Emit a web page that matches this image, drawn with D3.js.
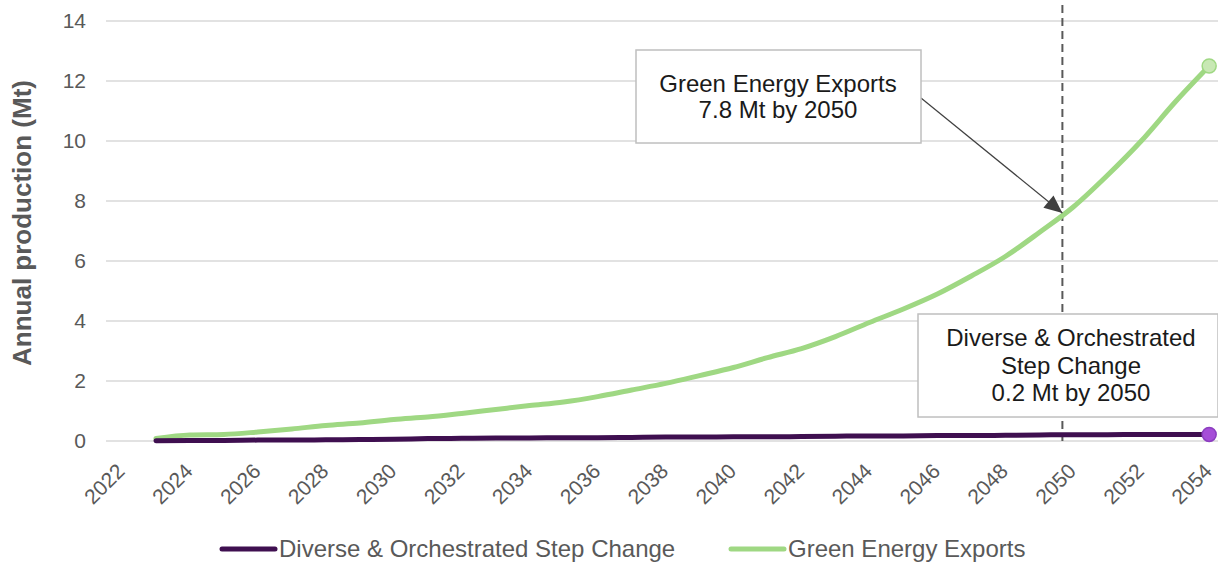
<!DOCTYPE html>
<html><head><meta charset="utf-8">
<script src="https://cdn.jsdelivr.net/npm/d3@7"></script>
<style>body{margin:0;background:#fff}svg{display:block}text{font-family:"Liberation Sans",Arial,sans-serif}</style>
</head><body><svg id="c" width="1218" height="565"></svg>
<script>
const years = d3.range(2023, 2055);
const greenExports = [0.08,0.2,0.22,0.3,0.4,0.52,0.6,0.72,0.8,0.92,1.05,1.18,1.3,1.48,1.7,1.92,2.18,2.45,2.78,3.08,3.48,3.95,4.4,4.9,5.5,6.15,6.95,7.8,8.85,10.0,11.3,12.5];
const diverseStep = [0.01,0.02,0.02,0.03,0.03,0.04,0.05,0.06,0.08,0.09,0.1,0.1,0.11,0.11,0.12,0.13,0.13,0.14,0.14,0.15,0.16,0.17,0.17,0.18,0.18,0.19,0.2,0.21,0.21,0.22,0.22,0.22];
const xTicks = d3.range(2022, 2055, 2);
const yTicks = [0,2,4,6,8,10,12,14];
const seriesNames = ["Diverse & Orchestrated Step Change","Green Energy Exports"];
const markerYear = 2049.68;
const note1 = ["Green Energy Exports","7.8 Mt by 2050"];
const note2 = ["Diverse & Orchestrated","Step Change","0.2 Mt by 2050"];

const svg = d3.select("#c");
const x = d3.scaleLinear().domain([2021.53, 2054.26]).range([106, 1218]);
const y = d3.scaleLinear().domain([0, 14]).range([441, 21]);
const purple = "#3f0f50", green = "#9fd883";
const FF = '"Liberation Sans",Arial,sans-serif';

// grid
svg.append("g").selectAll("line").data(yTicks).join("line")
  .attr("x1", 106).attr("x2", 1218).attr("y1", d=>y(d)).attr("y2", d=>y(d))
  .attr("stroke", "#d9d9d9").attr("stroke-width", 1.5);

// y axis labels
const ya = svg.append("g").attr("transform","translate(86,0)")
  .call(d3.axisLeft(y).tickValues(yTicks).tickSize(0).tickPadding(0));
ya.select(".domain").remove();
ya.selectAll("text").attr("font-size", 21).attr("fill", "#595959").attr("font-family", FF);

// x axis labels
const xa = svg.append("g").attr("transform","translate(0,441)")
  .call(d3.axisBottom(x).tickValues(xTicks).tickFormat(d3.format("d")).tickSize(0));
xa.select(".domain").remove();
xa.selectAll("text").attr("font-size", 21).attr("fill", "#595959").attr("font-family", FF)
  .attr("text-anchor","end").attr("transform","translate(-7,21) rotate(-45)").attr("dy","0.71em").attr("y",0);

// y title
svg.append("text").attr("transform","translate(31,223) rotate(-90)")
  .attr("text-anchor","middle").attr("font-size", 26).attr("font-weight","bold")
  .attr("fill","#595959").text("Annual production (Mt)");

// dashed marker
svg.append("line").attr("x1", x(markerYear)).attr("x2", x(markerYear))
  .attr("y1", 5).attr("y2", 441).attr("stroke","#595959").attr("stroke-width",2)
  .attr("stroke-dasharray","8,5");

const line = d3.line().x((d,i)=>x(years[i])).y(d=>y(d)).curve(d3.curveMonotoneX);
svg.append("path").datum(greenExports).attr("d", line).attr("fill","none")
  .attr("stroke", green).attr("stroke-width",5).attr("stroke-linecap","round");
svg.append("path").datum(diverseStep).attr("d", line).attr("fill","none")
  .attr("stroke", purple).attr("stroke-width",5).attr("stroke-linecap","round");

const last = years.length-1;
svg.append("circle").attr("cx", x(years[last])).attr("cy", y(greenExports[last])).attr("r",7)
  .attr("fill","#c8e8b4").attr("stroke", green).attr("stroke-width",1.5);
svg.append("circle").attr("cx", x(years[last])).attr("cy", y(diverseStep[last])).attr("r",7)
  .attr("fill","#a64ed8").attr("stroke","#8c3ec0").attr("stroke-width",1.5);

// annotation 1 arrow
const tx = x(markerYear), ty = y(7.6);
svg.append("line").attr("x1",921).attr("y1",98).attr("x2",tx).attr("y2",ty)
  .attr("stroke","#404040").attr("stroke-width",1.2);
svg.append("path").attr("d", (()=>{const a=Math.atan2(ty-98, tx-921); const L=18, W=8;
  const bx=tx-L*Math.cos(a), by=ty-L*Math.sin(a);
  return `M${tx},${ty}L${bx+W*Math.sin(a)},${by-W*Math.cos(a)}L${bx-W*Math.sin(a)},${by+W*Math.cos(a)}Z`;})())
  .attr("fill","#404040");
svg.append("rect").attr("x",636).attr("y",50).attr("width",285).attr("height",93)
  .attr("fill","#fff").attr("stroke","#bfbfbf").attr("stroke-width",1.5);
svg.append("g").selectAll("text").data(note1).join("text")
  .attr("x",778).attr("y",(d,i)=>92+i*26).attr("text-anchor","middle")
  .attr("font-size",24).attr("fill","#1a1a1a").text(d=>d);

// annotation 2
svg.append("rect").attr("x",918).attr("y",314).attr("width",300).attr("height",103)
  .attr("fill","#fff").attr("stroke","#bfbfbf").attr("stroke-width",1.5);
svg.append("g").selectAll("text").data(note2).join("text")
  .attr("x",1071).attr("y",(d,i)=>346+i*27.5).attr("text-anchor","middle")
  .attr("font-size",24).attr("fill","#1a1a1a").text(d=>d);

// legend
const leg = svg.append("g");
const items = [{n:seriesNames[0], c:purple, x:222},{n:seriesNames[1], c:green, x:731}];
items.forEach(it=>{
  leg.append("line").attr("x1",it.x).attr("x2",it.x+53).attr("y1",549).attr("y2",549)
    .attr("stroke",it.c).attr("stroke-width",5).attr("stroke-linecap","round");
  leg.append("text").attr("x",it.x+57).attr("y",557).attr("font-size",24).attr("fill","#595959").text(it.n);
});
</script></body></html>
